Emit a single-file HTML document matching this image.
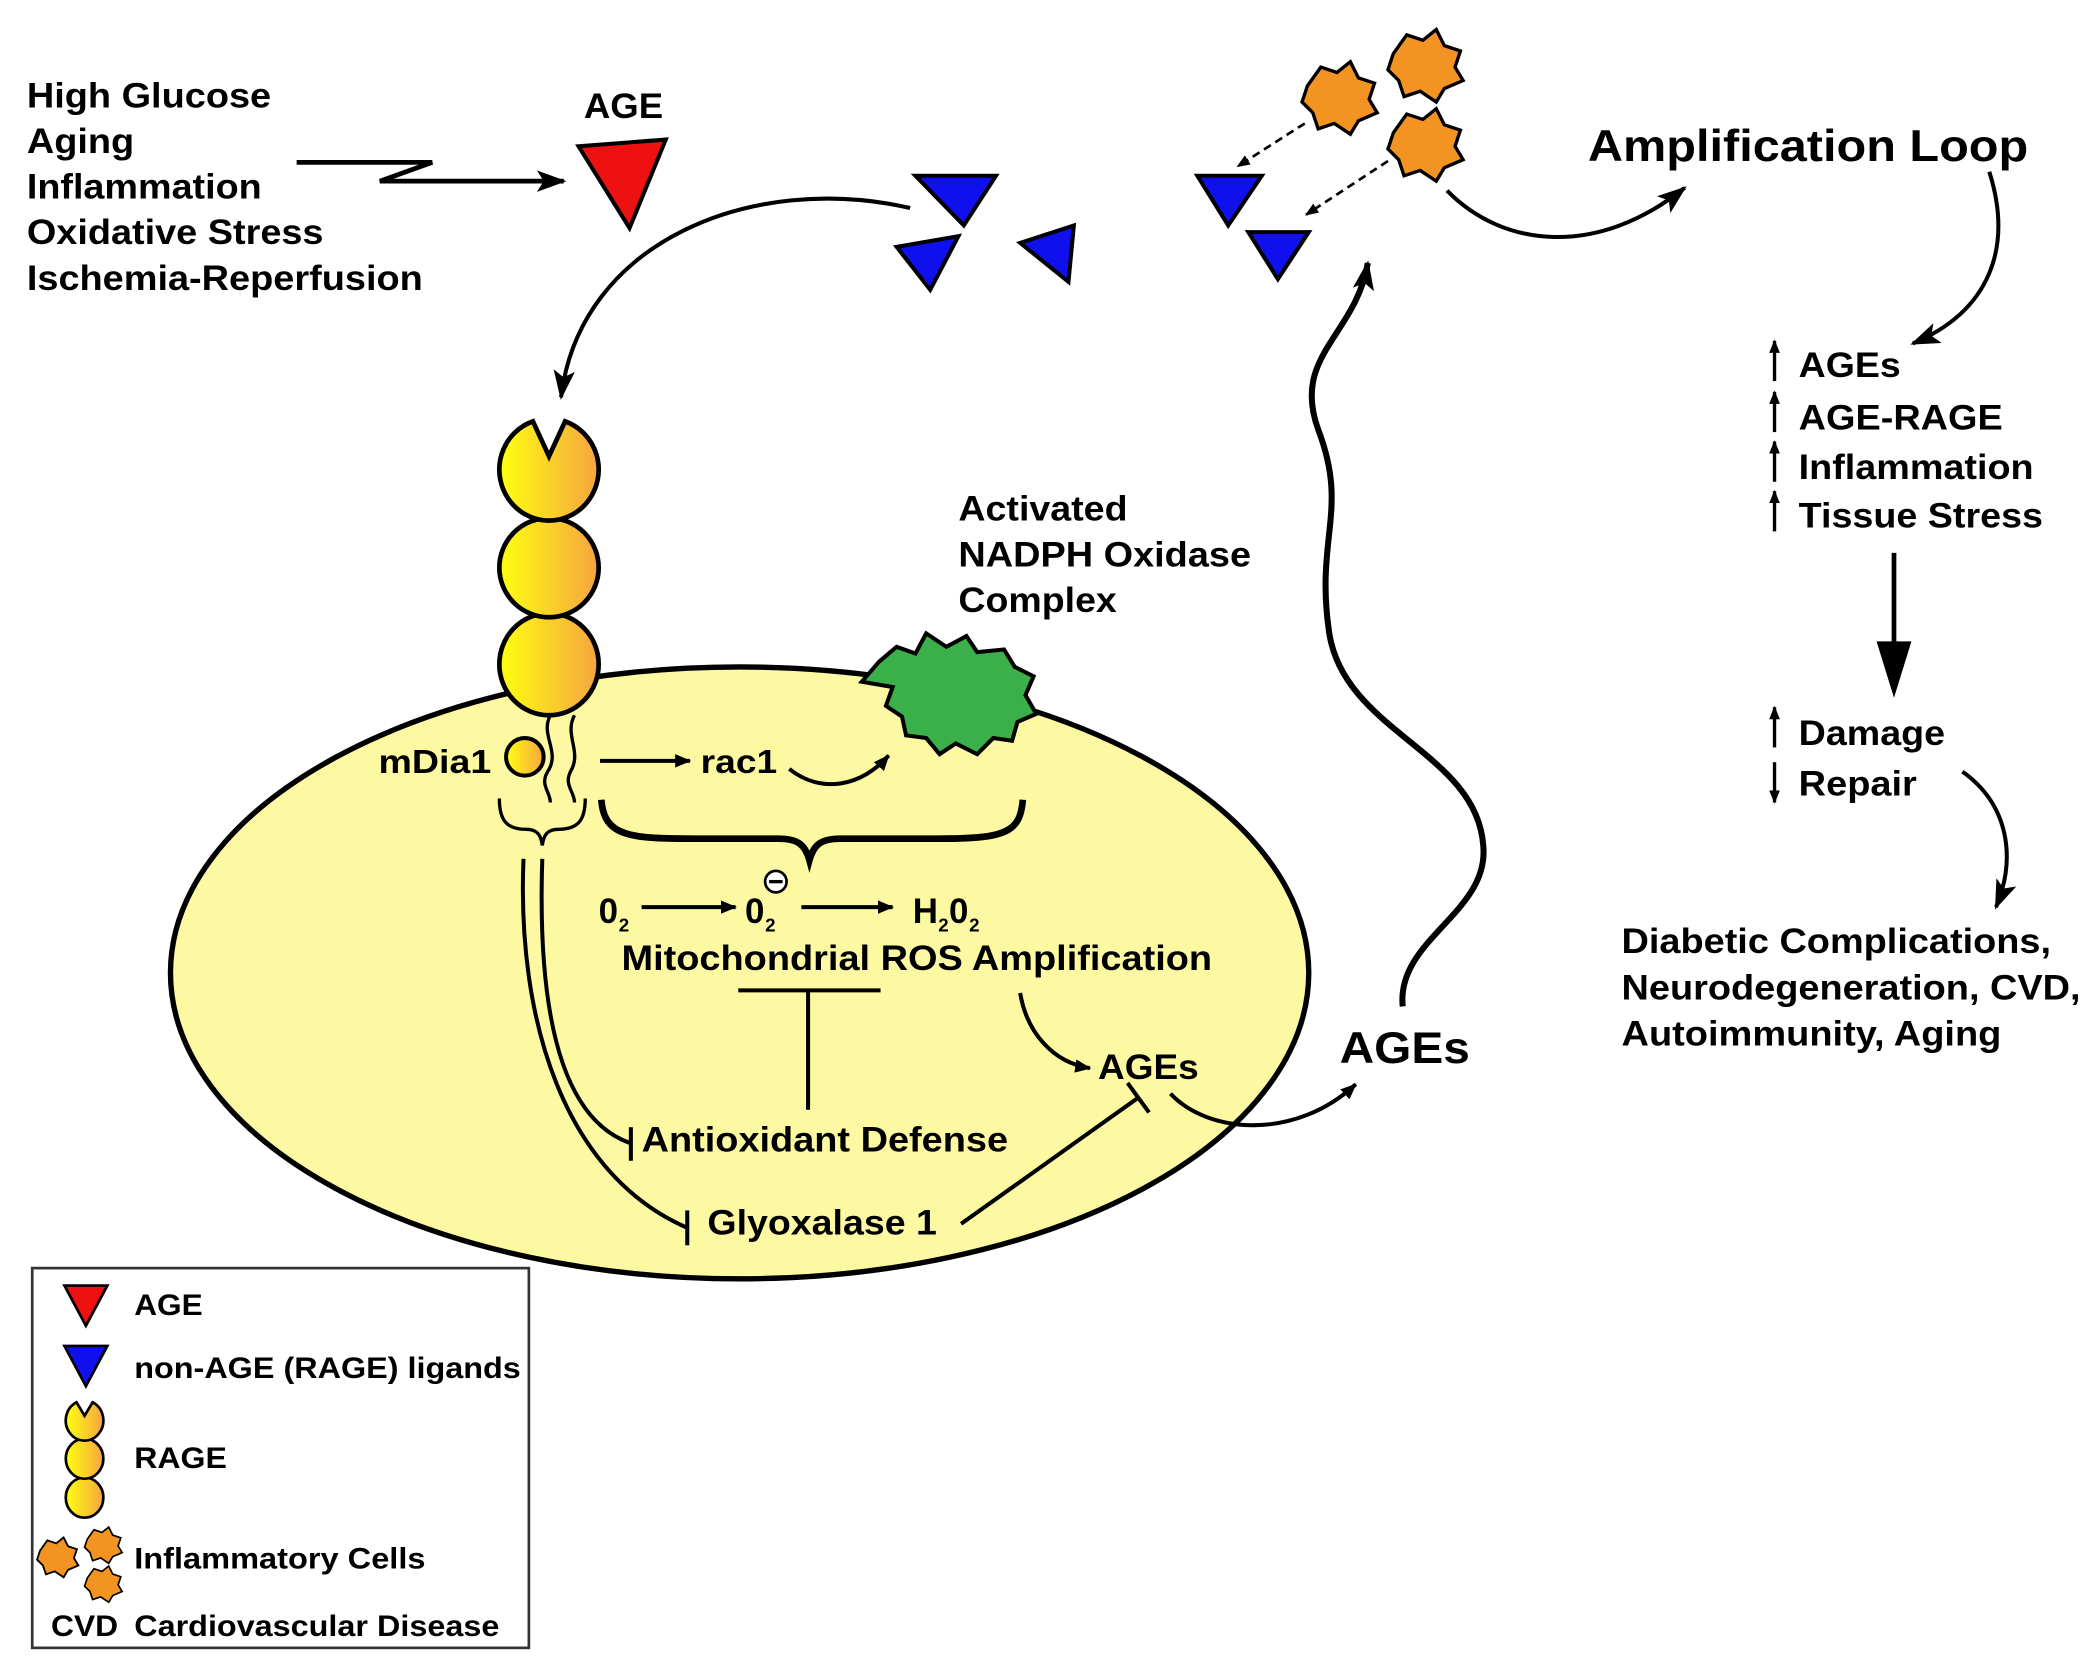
<!DOCTYPE html>
<html><head><meta charset="utf-8"><style>
html,body{margin:0;padding:0;background:#fff;}
svg{display:block;}
text{font-family:"Liberation Sans",sans-serif;font-weight:bold;fill:#000;}
</style></head><body>
<svg width="2094" height="1668" viewBox="0 0 1560 1243" preserveAspectRatio="none" xmlns="http://www.w3.org/2000/svg">
<defs>
<linearGradient id="rg" x1="0" x2="1" y1="0" y2="0"><stop offset="0" stop-color="#ffff10"/><stop offset="1" stop-color="#f5a540"/></linearGradient>
<marker id="ah" markerWidth="10" markerHeight="8" refX="9" refY="4" orient="auto" markerUnits="userSpaceOnUse" viewBox="0 0 10 8"><path d="M0,0 L10,4 L0,8 Z" fill="#000"/></marker>
<marker id="ahb" markerWidth="22" markerHeight="16" refX="20" refY="8" orient="auto" markerUnits="userSpaceOnUse" viewBox="0 0 22 16"><path d="M0,0 L22,8 L0,16 L5,8 Z" fill="#000"/></marker>
<marker id="ahs" markerWidth="12" markerHeight="10" refX="11" refY="5" orient="auto" markerUnits="userSpaceOnUse" viewBox="0 0 12 10"><path d="M0,0 L12,5 L0,10 Z" fill="#000"/></marker>
<g id="cell"><path d="M-24,-8 L-14,-22 L-2,-18 L8,-26 L14,-14 L26,-10 L22,2 L28,12 L14,18 L8,28 L-4,20 L-16,24 L-20,12 L-28,4 Z" fill="#f39422" stroke="#000" stroke-width="2.5"/></g>
</defs>

<ellipse cx="551" cy="725" rx="424" ry="228" fill="#fdf9a3" stroke="#000" stroke-width="4"/>

<g font-size="26" lengthAdjust="spacingAndGlyphs">
<text x="20" y="80" textLength="182" lengthAdjust="spacingAndGlyphs">High Glucose</text>
<text x="20" y="114" textLength="80" lengthAdjust="spacingAndGlyphs">Aging</text>
<text x="20" y="148" textLength="175" lengthAdjust="spacingAndGlyphs">Inflammation</text>
<text x="20" y="182" textLength="221" lengthAdjust="spacingAndGlyphs">Oxidative Stress</text>
<text x="20" y="216" textLength="295" lengthAdjust="spacingAndGlyphs">Ischemia-Reperfusion</text>
<text x="435" y="88" textLength="59" lengthAdjust="spacingAndGlyphs">AGE</text>
</g>
<path d="M221,121 L322,121 L283,135 L420,135" fill="none" stroke="#000" stroke-width="3.5" marker-end="url(#ahb)"/>
<polygon points="431,109 496,104 469,170" fill="#ee1111" stroke="#000" stroke-width="3"/>

<g fill="#1010ee" stroke="#000" stroke-width="3">
<polygon points="682,131 742,131 718,168"/>
<polygon points="668,184 714,176 693,216"/>
<polygon points="760,181 800,168 796,210"/>
<polygon points="892,131 940,131 915,168"/>
<polygon points="930,173 975,173 952,208"/>
</g>
<path d="M678,155 C560,128 432,180 418,296" fill="none" stroke="#000" stroke-width="3" marker-end="url(#ahb)"/>

<use href="#cell" x="998" y="72"/>
<use href="#cell" x="1062" y="48"/>
<use href="#cell" x="1062" y="107"/>
<path d="M972,92 L922,124" stroke="#000" stroke-width="2" stroke-dasharray="6,4" marker-end="url(#ah)" fill="none"/>
<path d="M1034,120 L973,160" stroke="#000" stroke-width="2" stroke-dasharray="6,4" marker-end="url(#ah)" fill="none"/>

<path d="M1078,142 C1120,185 1190,192 1255,140" fill="none" stroke="#000" stroke-width="3" marker-end="url(#ahb)"/>
<text x="1183" y="120" font-size="33" textLength="328" lengthAdjust="spacingAndGlyphs">Amplification Loop</text>
<path d="M1482,128 C1500,185 1482,232 1425,256" fill="none" stroke="#000" stroke-width="3" marker-end="url(#ahb)"/>

<g font-size="26">
<text x="1340" y="281" textLength="76" lengthAdjust="spacingAndGlyphs">AGEs</text>
<text x="1340" y="320" textLength="152" lengthAdjust="spacingAndGlyphs">AGE-RAGE</text>
<text x="1340" y="357" textLength="175" lengthAdjust="spacingAndGlyphs">Inflammation</text>
<text x="1340" y="393" textLength="182" lengthAdjust="spacingAndGlyphs">Tissue Stress</text>
<text x="1340" y="555" textLength="109" lengthAdjust="spacingAndGlyphs">Damage</text>
<text x="1340" y="593" textLength="88" lengthAdjust="spacingAndGlyphs">Repair</text>
<text x="1208" y="710" textLength="320" lengthAdjust="spacingAndGlyphs">Diabetic Complications,</text>
<text x="1208" y="745" textLength="342" lengthAdjust="spacingAndGlyphs">Neurodegeneration, CVD,</text>
<text x="1208" y="779" textLength="283" lengthAdjust="spacingAndGlyphs">Autoimmunity, Aging</text>
</g>
<g stroke="#000" stroke-width="2.5" fill="none">
<path d="M1322,284 L1322,254" marker-end="url(#ah)"/>
<path d="M1322,322 L1322,292" marker-end="url(#ah)"/>
<path d="M1322,359 L1322,329" marker-end="url(#ah)"/>
<path d="M1322,396 L1322,366" marker-end="url(#ah)"/>
<path d="M1322,557 L1322,527" marker-end="url(#ah)"/>
<path d="M1322,568 L1322,598" marker-end="url(#ah)"/>
</g>
<line x1="1411" y1="412" x2="1411" y2="485" stroke="#000" stroke-width="3.5"/>
<polygon points="1398,478 1424,478 1411,520" fill="#000"/>
<path d="M1462,575 C1497,600 1502,640 1487,676" fill="none" stroke="#000" stroke-width="3" marker-end="url(#ahb)"/>

<path d="M1045,750 C1040,700 1110,680 1105,630 C1100,560 1000,545 990,470 C980,400 1005,380 982,320 C962,265 1010,250 1019,196" fill="none" stroke="#000" stroke-width="4.5" marker-end="url(#ahb)"/>
<text x="998" y="792" font-size="33" textLength="97" lengthAdjust="spacingAndGlyphs">AGEs</text>

<g stroke="#000" stroke-width="3.5" fill="url(#rg)">
<ellipse cx="409" cy="495" rx="37" ry="38"/>
<ellipse cx="409" cy="423" rx="37" ry="37"/>
<path d="M397,314 L409,340 L421,314 A37,38 0 1 1 397,314 Z"/>
</g>
<g stroke="#000" stroke-width="2.5" fill="none">
<path d="M410,533 C402,548 418,560 408,575 C402,585 410,590 410,598"/>
<path d="M428,533 C420,548 434,560 425,575 C420,585 428,590 428,598"/>
<path d="M372,595 C372,612 378,618 392,618 C400,618 403,622 404,630 C405,622 408,618 416,618 C430,618 436,612 436,595"/>
</g>
<ellipse cx="391" cy="564" rx="14" ry="14" fill="url(#rg)" stroke="#000" stroke-width="3"/>
<text x="282" y="576" font-size="25" textLength="84" lengthAdjust="spacingAndGlyphs">mDia1</text>
<path d="M447,567 L514,567" stroke="#000" stroke-width="3" marker-end="url(#ahs)"/>
<text x="522" y="576" font-size="25" textLength="57" lengthAdjust="spacingAndGlyphs">rac1</text>
<path d="M588,573 C612,592 642,586 662,563" fill="none" stroke="#000" stroke-width="3" marker-end="url(#ahs)"/>

<polygon points="655,493 668,482 682,487 690,472 705,482 720,474 728,486 748,484 756,497 770,504 764,518 772,532 758,538 754,552 740,550 728,562 712,554 700,562 690,550 675,548 672,534 660,526 665,512 642,508" fill="#3bb04a" stroke="#000" stroke-width="3"/>
<g font-size="26">
<text x="714" y="388" textLength="126" lengthAdjust="spacingAndGlyphs">Activated</text>
<text x="714" y="422" textLength="218" lengthAdjust="spacingAndGlyphs">NADPH Oxidase</text>
<text x="714" y="456" textLength="118" lengthAdjust="spacingAndGlyphs">Complex</text>
</g>

<path d="M448,596 C450,624 470,625 520,625 L580,625 C595,625 600,630 603,641 C606,630 611,625 626,625 L700,625 C750,625 760,620 762,596" fill="none" stroke="#000" stroke-width="5"/>

<g font-size="26">
<text x="446" y="688">0</text><text x="461" y="694" font-size="14">2</text>
<text x="555" y="688">0</text><text x="570" y="694" font-size="14">2</text>
<text x="680" y="688">H</text><text x="699" y="694" font-size="14">2</text><text x="707" y="688">0</text><text x="722" y="694" font-size="14">2</text>
<text x="463" y="723" textLength="440" lengthAdjust="spacingAndGlyphs">Mitochondrial ROS Amplification</text>
<text x="478" y="858" textLength="273" lengthAdjust="spacingAndGlyphs">Antioxidant Defense</text>
<text x="527" y="920" textLength="171" lengthAdjust="spacingAndGlyphs">Glyoxalase 1</text>
<text x="818" y="804" textLength="75" lengthAdjust="spacingAndGlyphs">AGEs</text>
</g>
<circle cx="578" cy="657" r="8" fill="#fff" stroke="#000" stroke-width="2"/>
<line x1="573" y1="657" x2="583" y2="657" stroke="#000" stroke-width="2.5"/>
<path d="M478,676 L548,676" stroke="#000" stroke-width="3" marker-end="url(#ahs)"/>
<path d="M597,676 L665,676" stroke="#000" stroke-width="3" marker-end="url(#ahs)"/>
<g stroke="#000" stroke-width="3" fill="none">
<line x1="550" y1="738" x2="656" y2="738"/>
<line x1="602" y1="738" x2="602" y2="827"/>
<path d="M390,640 C385,760 420,875 512,915"/>
<line x1="512" y1="902" x2="512" y2="928"/>
<path d="M404,640 C400,760 420,835 470,852"/>
<line x1="470" y1="840" x2="470" y2="865"/>
<path d="M716,912 L848,818"/>
<line x1="840" y1="807" x2="856" y2="829"/>
</g>
<path d="M760,740 C765,770 785,792 812,796" fill="none" stroke="#000" stroke-width="3" marker-end="url(#ahs)"/>
<path d="M872,815 C900,845 965,850 1010,808" fill="none" stroke="#000" stroke-width="3" marker-end="url(#ahs)"/>

<rect x="24" y="945" width="370" height="283" fill="#fff" stroke="#333" stroke-width="2"/>
<polygon points="48,958 80,958 64,988" fill="#ee1111" stroke="#000" stroke-width="2"/>
<polygon points="48,1003 80,1003 64,1033" fill="#1010ee" stroke="#000" stroke-width="2"/>
<g stroke="#000" stroke-width="2" fill="url(#rg)">
<ellipse cx="63" cy="1116" rx="14" ry="15"/>
<ellipse cx="63" cy="1087" rx="14" ry="15"/>
<path d="M57,1045 L63,1055 L69,1045 A14,15 0 1 1 57,1045 Z"/>
</g>
<use href="#cell" transform="translate(43,1160) scale(0.55)"/>
<use href="#cell" transform="translate(77,1151) scale(0.5)"/>
<use href="#cell" transform="translate(77,1180) scale(0.5)"/>
<g font-size="22">
<text x="100" y="980" textLength="51" lengthAdjust="spacingAndGlyphs">AGE</text>
<text x="100" y="1027" textLength="288" lengthAdjust="spacingAndGlyphs">non-AGE (RAGE) ligands</text>
<text x="100" y="1094" textLength="69" lengthAdjust="spacingAndGlyphs">RAGE</text>
<text x="100" y="1169" textLength="217" lengthAdjust="spacingAndGlyphs">Inflammatory Cells</text>
<text x="38" y="1219" textLength="50" lengthAdjust="spacingAndGlyphs">CVD</text>
<text x="100" y="1219" textLength="272" lengthAdjust="spacingAndGlyphs">Cardiovascular Disease</text>
</g>
</svg>
</body></html>
